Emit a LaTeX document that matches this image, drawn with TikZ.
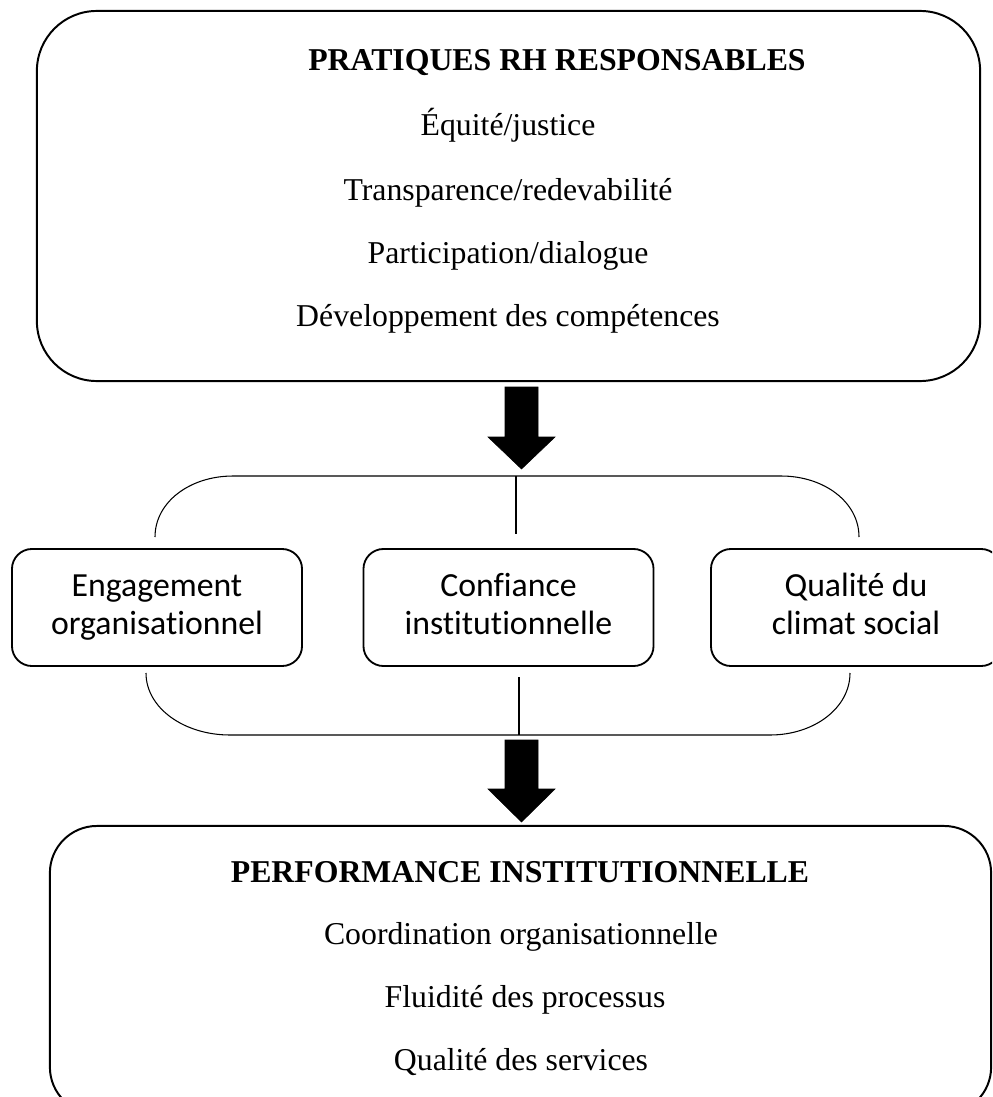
\documentclass[tikz,border=0pt]{standalone}
\usepackage{fontspec}
\setmainfont{Liberation Serif}
\newfontfamily\boxfont[Ligatures={NoCommon}]{Carlito}
\begin{document}
\begin{tikzpicture}[x=0.025cm,y=-0.025cm,
  bigbox/.style={draw,line width=1.4pt,inner sep=0pt},
  midbox/.style={draw,line width=1.3pt,rounded corners=0.5cm,minimum width=7.25cm,minimum height=2.925cm,inner sep=0pt,align=center,font=\boxfont\fontsize{24}{27}\selectfont},
  serif/.style={anchor=base,inner sep=0pt,font=\fontsize{22.6}{27}\selectfont},
  title/.style={serif,font=\fontsize{22.6}{27}\selectfont\bfseries},
  bracket/.style={line width=0.75pt},
  blockarrow/.style={fill=black,draw=black,line width=0.4pt}]
\path[use as bounding box,clip] (0,0) rectangle (992,1097);
% top box
\node[bigbox,rounded corners=1.5cm,minimum width=23.575cm,minimum height=9.25cm] (top) at (508.5,196) {};
\node[title] (t0) at (557,71) {PRATIQUES RH RESPONSABLES};
\node[serif] (t1) at (508,136) {Équité/justice};
\node[serif] (t2) at (508,200) {Transparence/redevabilité};
\node[serif] (t3) at (508,263) {Participation/dialogue};
\node[serif] (t4) at (508,326) {Développement des compétences};
% arrow 1
\fill[blockarrow] (505,387) -- (538,387) -- (538,437) -- (555,437) -- (521.5,469) -- (488,437) -- (505,437) -- cycle;
% middle boxes
\node[midbox] (m1) at (157,607.5) {Engagement\strut\\organisationnel\strut};
\node[midbox] (m2) at (508.5,607.5) {Confiance\strut\\institutionnelle\strut};
\node[midbox] (m3) at (856,607.5) {Qualité du\strut\\climat social\strut};
% top bracket
\coordinate (tb1) at (155,537);
\coordinate (tb2) at (859,537);
\coordinate (tbm) at (516,476);
\coordinate (tbm2) at (516,534);
\draw[bracket] (tb1) .. controls (155,502) and (190,476) .. (233,476) -- (781,476) .. controls (824,476) and (859,502) .. (tb2);
\draw[bracket] (tbm) -- (tbm2);
% bottom bracket
\coordinate (bb1) at (146,673);
\coordinate (bb2) at (850,673);
\coordinate (bbm) at (519,735);
\coordinate (bbm2) at (519,677);
\draw[bracket] (bb1) .. controls (146,708) and (184,735) .. (230,735) -- (770,735) .. controls (814,735) and (850,708) .. (bb2);
\draw[bracket] (bbm2) -- (bbm);
% arrow 2
\fill[blockarrow] (505,740) -- (538,740) -- (538,789) -- (555,789) -- (521.5,822) -- (488,789) -- (505,789) -- cycle;
% bottom box
\node[bigbox,rounded corners=1.175cm,minimum width=23.525cm,minimum height=7.2cm] (bot) at (520.5,970) {};
\node[title] (b0) at (520,882) {PERFORMANCE INSTITUTIONNELLE};
\node[serif] (b1) at (521,944) {Coordination organisationnelle};
\node[serif] (b2) at (525,1007) {Fluidité des processus};
\node[serif] (b3) at (521,1070) {Qualité des services};
\end{tikzpicture}
\end{document}
